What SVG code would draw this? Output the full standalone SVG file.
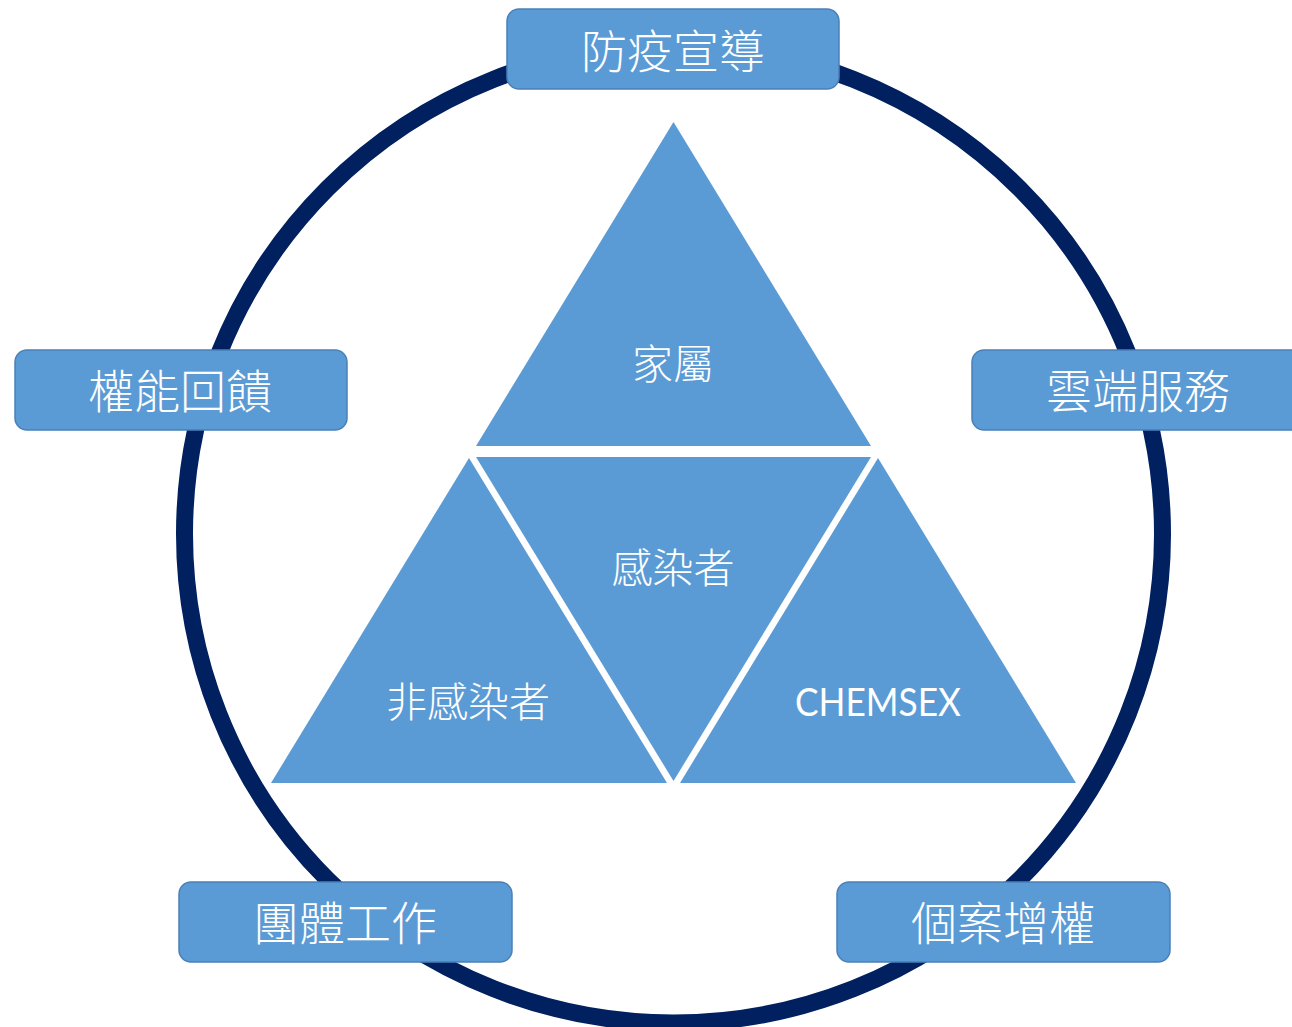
<svg xmlns="http://www.w3.org/2000/svg" width="1292" height="1027" viewBox="0 0 1292 1027">
<style>
.ring{fill:none;stroke:#002060;stroke-width:17}
.box{fill:#5b9bd5;stroke:#4a80b8;stroke-width:1.5}
.tri{fill:#5b9bd5}
.bt{font-family:"Noto Sans CJK TC","Noto Sans CJK SC",sans-serif;font-size:46px;fill:#ffffff;text-anchor:middle;dominant-baseline:central;font-weight:300}
.tt{font-family:"Noto Sans CJK TC","Noto Sans CJK SC",sans-serif;font-size:41px;fill:#ffffff;text-anchor:middle;dominant-baseline:central;font-weight:300}
.et{font-family:"Lato","Liberation Sans",sans-serif;font-size:38px;fill:#ffffff;text-anchor:middle;dominant-baseline:central}
</style>
<rect width="1292" height="1027" fill="#ffffff"/>
<g id="connectors">
<circle class="ring" cx="673.5" cy="534" r="489"/>
</g>
<g id="box-top">
<rect class="box" x="507" y="9" width="332" height="80" rx="12"/>
<text class="bt" x="673" y="48">防疫宣導</text>
</g>
<g id="box-left">
<rect class="box" x="15" y="350" width="332" height="80" rx="12"/>
<text class="bt" x="180" y="388">權能回饋</text>
</g>
<g id="box-right">
<rect class="box" x="972" y="350" width="332" height="80" rx="12"/>
<text class="bt" x="1138" y="388">雲端服務</text>
</g>
<g id="box-bottom-left">
<rect class="box" x="179" y="882" width="333" height="80" rx="12"/>
<text class="bt" x="345" y="920">團體工作</text>
</g>
<g id="box-bottom-right">
<rect class="box" x="837" y="882" width="333" height="80" rx="12"/>
<text class="bt" x="1003" y="920">個案增權</text>
</g>
<g id="tri-top">
<polygon class="tri" points="673.5,122 476,446 871,446"/>
<text class="tt" x="673" y="361">家屬</text>
</g>
<g id="tri-middle">
<polygon class="tri" points="476,457 871,457 673.5,781"/>
<text class="tt" x="673" y="565">感染者</text>
</g>
<g id="tri-left">
<polygon class="tri" points="469,458 667,783 271,783"/>
<text class="tt" x="468" y="699">非感染者</text>
</g>
<g id="tri-right">
<polygon class="tri" points="878,458 1076,783 680,783"/>
<text class="et" x="878" y="701" textLength="166" lengthAdjust="spacingAndGlyphs">CHEMSEX</text>
</g>
</svg>
